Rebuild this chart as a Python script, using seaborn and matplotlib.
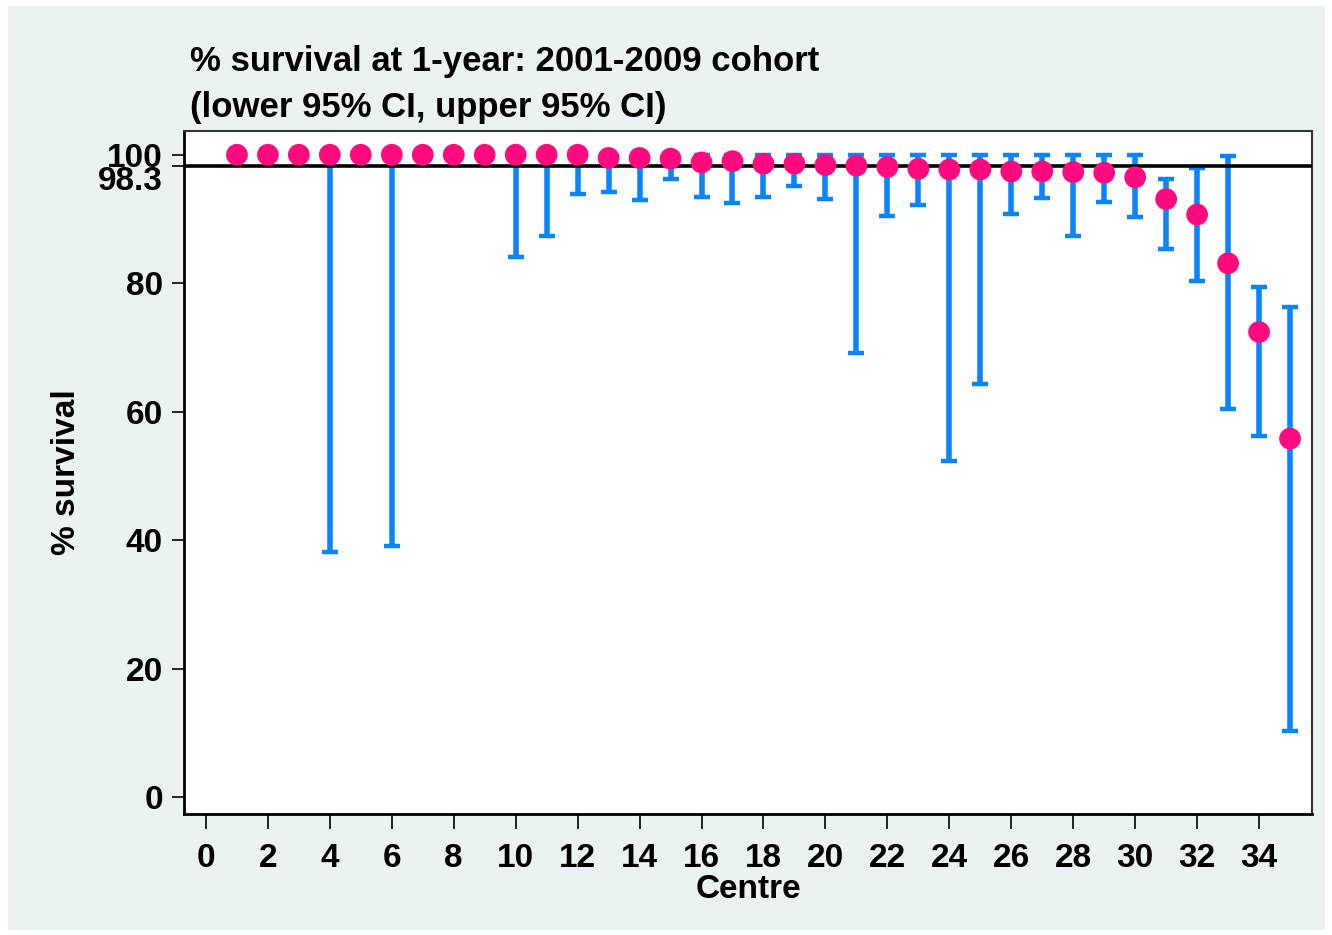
import numpy as np
import pandas as pd
import matplotlib
matplotlib.use('Agg')
import matplotlib.pyplot as plt
import seaborn as sns
from matplotlib.patches import Rectangle

# Data
centre = list(range(1, 36))
survival = [100, 100, 100, 100, 100, 100, 100, 100, 100, 100,
            100, 100, 99.5, 99.5, 99.4, 98.8, 99.0, 98.6, 98.6, 98.4,
            98.3, 98.1, 97.8, 97.7, 97.7, 97.4, 97.4, 97.3, 97.2, 96.5,
            93.1, 90.7, 83.1, 72.4, 55.8]
lower_ci = [100, 100, 100, 38.2, 100, 39.1, 100, 100, 100, 84.1,
            87.4, 93.9, 94.2, 93.0, 96.3, 93.5, 92.5, 93.5, 95.1, 93.1,
            69.2, 90.5, 92.2, 52.3, 64.3, 90.8, 93.3, 87.3, 92.6, 90.3,
            85.4, 80.4, 60.4, 56.2, 10.3]
upper_ci = [100, 100, 100, 100, 100, 100, 100, 100, 100, 100,
            100, 100, 100, 100, 100, 100, 100, 100, 100, 100,
            100, 100, 100, 100, 100, 100, 100, 100, 100, 100,
            96.2, 97.9, 99.8, 79.4, 76.3]
overall = 98.3
y_ticks = [0, 20, 40, 60, 80, 100]
x_ticks = list(range(0, 35, 2))

df = pd.DataFrame({'centre': centre, 'survival': survival,
                   'lower': lower_ci, 'upper': upper_ci})

sns.set_style('white')
plt.rcParams['font.family'] = ['Liberation Sans', 'DejaVu Sans']
plt.rcParams['font.weight'] = 'bold'
plt.rcParams['text.color'] = 'black'
plt.rcParams['axes.labelcolor'] = 'black'
plt.rcParams['xtick.color'] = 'black'
plt.rcParams['ytick.color'] = 'black'

bg = '#eaf2f3'
fig = plt.figure(figsize=(13.32, 9.35), dpi=100, facecolor='white')
fig.patches.append(Rectangle((8 / 1332, 5 / 935), 1317 / 1332, 924 / 935,
                             transform=fig.transFigure, facecolor=bg,
                             edgecolor='none', zorder=-10))
ax = fig.add_axes([0.1381, 0.1294, 0.985 - 0.1381, 0.8599 - 0.1294])
ax.set_facecolor('white')

# confidence intervals
ax.errorbar(df['centre'], df['survival'],
            yerr=[df['survival'] - df['lower'], df['upper'] - df['survival']],
            fmt='none', ecolor='#0a85ff', elinewidth=4, capsize=5.6,
            capthick=3.2, zorder=2)

# overall line
ax.axhline(overall, color='black', lw=2.6, zorder=3)

# centre estimates
sns.scatterplot(data=df, x='centre', y='survival', color='#ff0a7f', s=245,
                edgecolor='none', linewidth=0, ax=ax, zorder=4)

ax.set_xlim(-0.71, 35.71)
ax.set_ylim(-2.65, 103.7)
ax.set_xticks(x_ticks)
ax.set_yticks(y_ticks + [overall])
ax.set_yticklabels([str(t) for t in y_ticks] + ['98.3'])
ax.tick_params(axis='both', which='major', labelsize=24, direction='out',
               length=9, width=1.2, color='black', left=True, bottom=True)
ax.tick_params(axis='x', length=11, pad=10)
ax.tick_params(axis='y', pad=6)
for lab in ax.get_xticklabels() + ax.get_yticklabels():
    lab.set_fontweight('bold')
# the 98.3 label sits just under its tick, below the 100 label
ax.get_yticklabels()[-1].set_va('top')
ax.get_yticklabels()[-1].set_y(overall - 0.4)

for side in ['left', 'bottom']:
    ax.spines[side].set_color('black')
    ax.spines[side].set_linewidth(2)
for side in ['top', 'right']:
    ax.spines[side].set_color('#333333')
    ax.spines[side].set_linewidth(1.5)

ax.set_xlabel('Centre', fontsize=24, fontweight='bold', labelpad=0)
ax.set_ylabel('% survival', fontsize=24, fontweight='bold', labelpad=12)

fig.text(190 / 1332, 1 - 62 / 935, '% survival at 1-year: 2001-2009 cohort',
         fontsize=25, fontweight='bold', va='center', ha='left')
fig.text(190 / 1332, 1 - 108 / 935, '(lower 95% CI, upper 95% CI)',
         fontsize=25, fontweight='bold', va='center', ha='left')

fig.savefig('out.png', dpi=100, facecolor='white')
